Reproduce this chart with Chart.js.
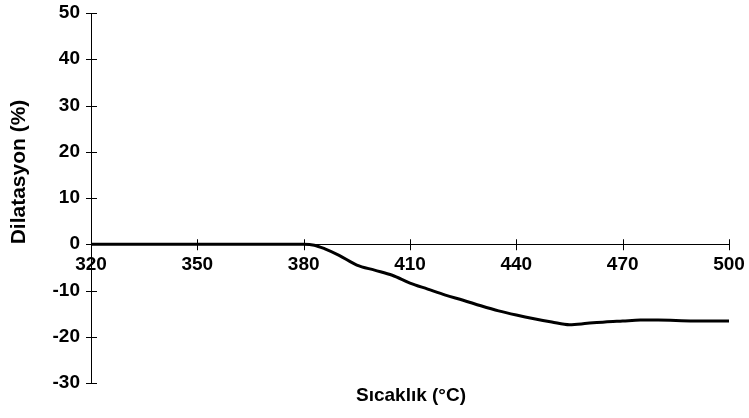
<!DOCTYPE html>
<html>
<head>
<meta charset="utf-8">
<script src="https://cdn.jsdelivr.net/npm/chart.js@4/dist/chart.umd.min.js"></script>
<style>
html,body{margin:0;padding:0;background:#fff;}
#wrap{width:749px;height:418px;position:relative;}
</style>
</head>
<body>
<div id="wrap"><canvas id="c" width="749" height="418"></canvas></div>
<script>
// Data
const temperatures = [320, 330, 340, 350, 360, 370, 380, 383, 386, 390, 395, 400, 405, 410, 415, 420, 425, 430, 435, 440, 445, 450, 455, 460, 465, 470, 475, 480, 490, 500];
const dilatation   = [0, 0, 0, 0, 0, 0, 0, -0.2, -1.0, -2.4, -4.5, -5.6, -6.7, -8.4, -9.7, -11.0, -12.1, -13.3, -14.4, -15.3, -16.1, -16.8, -17.4, -17.1, -16.8, -16.6, -16.4, -16.4, -16.6, -16.6];
const xTickValues = [320, 350, 380, 410, 440, 470, 500];
const yTickValues = [-30, -20, -10, 0, 10, 20, 30, 40, 50];
const xTitle = 'Sıcaklık (°C)';
const yTitle = 'Dilatasyon (%)';

const FONT = '"Liberation Sans", Arial, sans-serif';

const points = temperatures.map((t, i) => ({x: t, y: dilatation[i]}));

const crossTicks = {
  id: 'crossTicks',
  afterDraw(chart) {
    const ctx = chart.ctx;
    const xs = chart.scales.x, ys = chart.scales.y;
    const y0 = ys.getPixelForValue(0);
    const x0 = xs.getPixelForValue(320);
    ctx.save();
    ctx.strokeStyle = '#000';
    ctx.lineWidth = 1;
    ctx.beginPath();
    xTickValues.forEach(v => {
      const px = Math.round(xs.getPixelForValue(v)) + 0.5;
      ctx.moveTo(px, y0 - 5);
      ctx.lineTo(px, y0 + 6);
    });
    yTickValues.forEach(v => {
      const py = Math.round(ys.getPixelForValue(v)) + 0.5;
      ctx.moveTo(x0 - 5, py);
      ctx.lineTo(x0 + 6, py);
    });
    ctx.stroke();
    // axis titles
    ctx.fillStyle = '#000';
    ctx.font = 'bold 19px ' + FONT;
    ctx.textAlign = 'center';
    ctx.textBaseline = 'middle';
    ctx.fillText(xTitle, 411, 396);
    ctx.translate(19, 172);
    ctx.rotate(-Math.PI / 2);
    ctx.font = 'bold 21px ' + FONT;
    ctx.fillText(yTitle, 0, 0);
    ctx.restore();
  }
};

new Chart(document.getElementById('c'), {
  type: 'line',
  data: {
    datasets: [{
      data: points,
      borderColor: '#000',
      borderWidth: 3,
      pointRadius: 0,
      tension: 0.3,
      cubicInterpolationMode: 'monotone',
      fill: false
    }]
  },
  options: {
    responsive: false,
    animation: false,
    devicePixelRatio: 1,
    layout: {padding: {top: 13, right: 20, bottom: 35, left: 0}},
    plugins: {legend: {display: false}, tooltip: {enabled: false}},
    scales: {
      x: {
        type: 'linear',
        min: 320, max: 500,
        position: {y: 0},
        afterBuildTicks(scale) { scale.ticks = xTickValues.map(v => ({value: v})); },
        afterFit(scale) { scale.height = 0; scale.paddingLeft = 0; scale.paddingRight = 0; },
        grid: {display: false, drawTicks: false},
        border: {display: true, color: '#000', width: 1},
        ticks: {
          color: '#000',
          font: {family: FONT, size: 19, weight: 'bold'},
          padding: 9,
          maxRotation: 0,
          autoSkip: false
        }
      },
      y: {
        type: 'linear',
        min: -30, max: 50,
        position: 'left',
        afterBuildTicks(scale) { scale.ticks = yTickValues.map(v => ({value: v})); },
        afterFit(scale) { scale.width = 91; scale.paddingTop = 0; scale.paddingBottom = 0; },
        grid: {display: false, drawTicks: false},
        border: {display: true, color: '#000', width: 1},
        ticks: {
          color: '#000',
          font: {family: FONT, size: 19, weight: 'bold'},
          padding: 11,
          autoSkip: false
        }
      }
    }
  },
  plugins: [crossTicks]
});
</script>
</body>
</html>
